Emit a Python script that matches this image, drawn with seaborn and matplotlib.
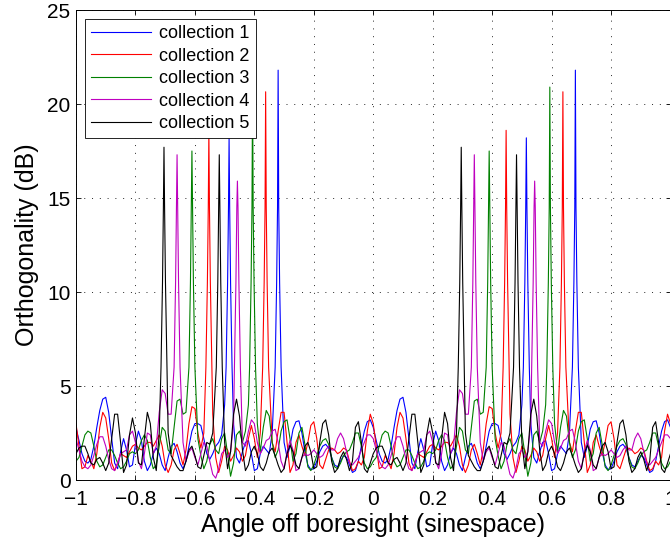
import numpy as np
import pandas as pd
import matplotlib
matplotlib.use("Agg")
import matplotlib.pyplot as plt
import seaborn as sns
from matplotlib.lines import Line2D

series_names = ["collection 1", "collection 2", "collection 3", "collection 4", "collection 5"]
series_colors = ["#0000ff", "#ff0000", "#008000", "#bf00bf", "#000000"]

# angle grid in sinespace, sampled every 0.01 from -1 to 1
u_grid = np.round(np.linspace(-1.0, 1.0, 201), 3)

# background level (dB) at each grid sample
c1_db = [2.8,2.1,1.4,1.0,0.9,1.1,1.8,2.8,3.7,4.3, 4.4,3.6,2.2,0.9,0.6,1.5,2.2,1.6,0.7,0.8,
         1.9,2.6,2.1,1.0,0.5,0.8,1.4,1.7,1.4,0.8, 0.5,1.2,1.8,1.95,1.5,0.9,0.6,1.0,1.8,2.6,
         3.0,3.0,2.9,2.2,1.4,1.1,1.4,1.8,2.0,2.4, 4.0,8.0,8.0,3.0,1.2,0.9,1.5,2.0,2.1,1.4,
         0.5,0.6,1.4,1.8,1.6,1.4,2.5,6.0,20.0,6.0, 2.0,1.2,1.8,2.7,3.1,3.15,2.5,1.5,0.8,0.55,
         0.6,1.0,1.5,1.8,1.9,1.7,1.2,0.8,0.7,1.0, 1.3,1.2,0.8,0.4,0.5,1.0,1.8,2.6,3.1,3.2,
         2.8,2.1,1.4,1.0,0.9,1.1,1.8,2.8,3.7,4.3, 4.4,3.6,2.2,0.9,0.6,1.5,2.2,1.6,0.7,0.8,
         1.9,2.6,2.1,1.0,0.5,0.8,1.4,1.7,1.4,0.8, 0.5,1.2,1.8,1.95,1.5,0.9,0.6,1.0,1.8,2.6,
         3.0,3.0,2.9,2.2,1.4,1.1,1.4,1.8,2.0,2.4, 4.0,8.0,8.0,3.0,1.2,0.9,1.5,2.0,2.1,1.4,
         0.5,0.6,1.4,1.8,1.6,1.4,2.5,6.0,20.0,6.0, 2.0,1.2,1.8,2.7,3.1,3.15,2.5,1.5,0.8,0.55,
         0.6,1.0,1.5,1.8,1.9,1.7,1.2,0.8,0.7,1.0, 1.3,1.2,0.8,0.4,0.5,1.0,1.8,2.6,3.1,3.2,
         2.8]
c2_db = [3.0,1.8,0.6,0.7,1.3,1.0,0.6,1.4,2.8,3.6, 3.3,2.2,0.9,0.5,0.9,1.4,1.3,1.2,1.5,1.8,
         1.9,1.7,1.6,1.8,2.0,2.0,1.8,2.1,2.4,1.8, 0.8,0.4,0.8,1.6,1.9,1.4,0.8,1.6,3.0,3.9,
         3.8,2.5,1.7,2.5,7.0,15.0,3.5,1.2,0.4,1.0, 1.8,1.6,1.0,1.3,1.7,1.5,1.0,1.3,2.2,2.9,
         2.2,1.2,2.5,6.0,15.0,5.0,2.0,1.5,2.6,3.6, 3.6,2.0,0.4,0.8,2.0,2.4,1.8,1.3,2.0,2.9,
         3.1,2.2,0.8,0.6,1.1,1.6,1.7,1.6,1.4,1.5, 1.7,1.6,1.0,0.5,0.6,1.0,0.8,1.2,2.6,3.5,
         3.0,1.8,0.6,0.7,1.3,1.0,0.6,1.4,2.8,3.6, 3.3,2.2,0.9,0.5,0.9,1.4,1.3,1.2,1.5,1.8,
         1.9,1.7,1.6,1.8,2.0,2.0,1.8,2.1,2.4,1.8, 0.8,0.4,0.8,1.6,1.9,1.4,0.8,1.6,3.0,3.9,
         3.8,2.5,1.7,2.5,7.0,15.0,3.5,1.2,0.4,1.0, 1.8,1.6,1.0,1.3,1.7,1.5,1.0,1.3,2.2,2.9,
         2.2,1.2,2.5,6.0,15.0,5.0,2.0,1.5,2.6,3.6, 3.6,2.0,0.4,0.8,2.0,2.4,1.8,1.3,2.0,2.9,
         3.1,2.2,0.8,0.6,1.1,1.6,1.7,1.6,1.4,1.5, 1.7,1.6,1.0,0.5,0.6,1.0,0.8,1.2,2.6,3.5,
         3.0]
c3_db = [1.0,1.2,1.8,2.4,2.6,2.5,1.8,1.0,0.7,0.8, 1.2,1.6,1.6,1.3,0.9,0.6,0.7,1.0,1.4,1.5,
         1.4,1.6,2.1,2.4,2.1,1.2,0.6,0.8,1.8,2.8, 2.6,1.6,1.4,2.8,4.2,4.3,3.5,3.6,6.0,15.0,
         6.0,2.2,1.3,0.6,1.0,1.9,2.2,1.6,1.4,2.2, 2.5,1.4,0.2,0.9,2.4,2.6,2.0,2.6,4.0,12.0,
         8.0,3.0,1.5,2.8,3.7,3.4,2.0,1.2,1.6,2.6, 3.1,3.2,2.2,1.0,1.4,2.5,2.8,1.9,0.7,0.5,
         0.8,1.3,1.8,2.1,2.2,1.9,1.2,0.7,0.6,0.9, 1.3,1.5,1.6,2.0,2.5,2.5,1.8,0.9,0.6,0.7,
         1.0,1.2,1.8,2.4,2.6,2.5,1.8,1.0,0.7,0.8, 1.2,1.6,1.6,1.3,0.9,0.6,0.7,1.0,1.4,1.5,
         1.4,1.6,2.1,2.4,2.1,1.2,0.6,0.8,1.8,2.8, 2.6,1.6,1.4,2.8,4.2,4.3,3.5,3.6,6.0,15.0,
         6.0,2.2,1.3,0.6,1.0,1.9,2.2,1.6,1.4,2.2, 2.5,1.4,0.2,0.9,2.4,2.6,2.0,2.6,4.0,12.0,
         8.0,3.0,1.5,2.8,3.7,3.4,2.0,1.2,1.6,2.6, 3.1,3.2,2.2,1.0,1.4,2.5,2.8,1.9,0.7,0.5,
         0.8,1.3,1.8,2.1,2.2,1.9,1.2,0.7,0.6,0.9, 1.3,1.5,1.6,2.0,2.5,2.5,1.8,0.9,0.6,0.7,
         1.0]
c4_db = [2.2,1.6,1.0,0.7,0.6,0.8,1.3,1.9,2.3,2.3, 1.8,1.1,0.6,0.5,0.9,1.4,1.5,1.6,2.4,2.6,
         2.0,1.0,0.6,1.4,2.5,2.4,1.4,1.8,3.6,4.8, 4.6,3.5,3.5,6.0,15.0,5.0,2.0,1.0,1.5,1.7,
         1.2,0.8,1.4,2.0,1.8,1.0,0.3,0.1,0.6,1.4, 1.6,1.2,1.5,3.0,12.0,7.0,2.0,1.8,2.6,3.2,
         3.0,2.0,1.4,1.7,2.1,2.2,2.6,2.7,2.0,1.0, 0.6,1.5,2.1,1.6,0.5,0.6,1.2,1.4,1.3,1.4,
         1.6,1.4,1.2,1.3,1.6,1.8,1.6,1.6,2.2,2.5, 2.2,1.5,0.9,0.8,1.0,1.2,1.6,2.0,2.4,2.4,
         2.2,1.6,1.0,0.7,0.6,0.8,1.3,1.9,2.3,2.3, 1.8,1.1,0.6,0.5,0.9,1.4,1.5,1.6,2.4,2.6,
         2.0,1.0,0.6,1.4,2.5,2.4,1.4,1.8,3.6,4.8, 4.6,3.5,3.5,6.0,15.0,5.0,2.0,1.0,1.5,1.7,
         1.2,0.8,1.4,2.0,1.8,1.0,0.3,0.1,0.6,1.4, 1.6,1.2,1.5,3.0,12.0,7.0,2.0,1.8,2.6,3.2,
         3.0,2.0,1.4,1.7,2.1,2.2,2.6,2.7,2.0,1.0, 0.6,1.5,2.1,1.6,0.5,0.6,1.2,1.4,1.3,1.4,
         1.6,1.4,1.2,1.3,1.6,1.8,1.6,1.6,2.2,2.5, 2.2,1.5,0.9,0.8,1.0,1.2,1.6,2.0,2.4,2.4,
         2.2]
c5_db = [1.4,1.7,1.8,1.8,1.4,0.9,0.8,1.1,1.2,0.9, 0.5,0.9,2.2,3.5,3.5,2.0,0.4,0.8,2.4,3.3,
         2.5,0.9,0.8,2.2,3.6,3.0,1.2,0.5,2.5,6.0, 15.0,2.5,1.3,1.0,0.7,0.5,0.5,1.0,1.6,1.8,
         1.3,0.7,0.6,1.3,2.0,1.9,2.5,4.5,15.0,6.0, 2.0,0.6,1.5,3.5,4.3,3.4,1.6,0.5,0.8,1.5,
         1.8,1.4,0.7,0.5,0.9,1.5,1.7,1.3,0.8,0.4, 0.6,1.4,1.85,1.5,0.8,0.6,1.2,1.8,2.0,1.5,
         0.6,0.7,2.0,3.0,3.2,2.4,1.0,0.4,0.6,1.2, 1.5,1.1,0.5,1.0,2.8,3.1,2.0,0.6,0.4,0.9,
         1.4,1.7,1.8,1.8,1.4,0.9,0.8,1.1,1.2,0.9, 0.5,0.9,2.2,3.5,3.5,2.0,0.4,0.8,2.4,3.3,
         2.5,0.9,0.8,2.2,3.6,3.0,1.2,0.5,2.5,6.0, 15.0,2.5,1.3,1.0,0.7,0.5,0.5,1.0,1.6,1.8,
         1.3,0.7,0.6,1.3,2.0,1.9,2.5,4.5,15.0,6.0, 2.0,0.6,1.5,3.5,4.3,3.4,1.6,0.5,0.8,1.5,
         1.8,1.4,0.7,0.5,0.9,1.5,1.7,1.3,0.8,0.4, 0.6,1.4,1.85,1.5,0.8,0.6,1.2,1.8,2.0,1.5,
         0.6,0.7,2.0,3.0,3.2,2.4,1.0,0.4,0.6,1.2, 1.5,1.1,0.5,1.0,2.8,3.1,2.0,0.6,0.4,0.9,
         1.4]

# sharp orthogonality peaks: position (sinespace) and height (dB)
c1_peak_u = [-0.485, -0.320, 0.515, 0.680]
c1_peak_db = [18.2, 21.8, 18.2, 21.8]
c2_peak_u = [-0.553, -0.362, 0.447, 0.638]
c2_peak_db = [18.6, 20.65, 18.6, 20.65]
c3_peak_u = [-0.610, -0.406, 0.390, 0.594]
c3_peak_db = [17.5, 20.9, 17.5, 20.9]
c4_peak_u = [-0.660, -0.457, 0.340, 0.543]
c4_peak_db = [17.3, 15.9, 17.3, 15.9]
c5_peak_u = [-0.704, -0.518, 0.296, 0.482]
c5_peak_db = [17.7, 17.3, 17.7, 17.3]

# flank levels of each peak at given distances from the peak
flank_du = [0.002, 0.005, 0.010]
flank_db = [14.5, 10.5, 6.0]

x_ticks = [-1.0, -0.8, -0.6, -0.4, -0.2, 0.0, 0.2, 0.4, 0.6, 0.8, 1.0]
x_tick_labels = ["\u22121", "\u22120.8", "\u22120.6", "\u22120.4", "\u22120.2", "0",
                 "0.2", "0.4", "0.6", "0.8", "1"]
y_ticks = [0, 5, 10, 15, 20, 25]
y_tick_labels = ["0", "5", "10", "15", "20", "25"]

# ---------------------------------------------------------------
frames = []
all_db = [c1_db, c2_db, c3_db, c4_db, c5_db]
all_pu = [c1_peak_u, c2_peak_u, c3_peak_u, c4_peak_u, c5_peak_u]
all_pdb = [c1_peak_db, c2_peak_db, c3_peak_db, c4_peak_db, c5_peak_db]
for name, db, pu, pdb in zip(series_names, all_db, all_pu, all_pdb):
    db = np.asarray(db, float)
    pu_a = np.asarray(pu, float)
    keep = np.all(np.abs(u_grid[:, None] - pu_a[None, :]) >= 0.0125, axis=1)
    us = list(u_grid[keep])
    vs = list(db[keep])
    for p, h in zip(pu, pdb):
        us.append(p)
        vs.append(h)
        for d, f in zip(flank_du, flank_db):
            us += [p - d, p + d]
            vs += [f, f]
    frames.append(pd.DataFrame({"u": us, "db": vs, "series": name}))
df = pd.concat(frames, ignore_index=True).sort_values(["series", "u"])

plt.rcParams["font.family"] = ["Liberation Sans", "DejaVu Sans"]
plt.rcParams["axes.unicode_minus"] = True

fig = plt.figure(figsize=(6.7, 5.42), dpi=100)
ax = fig.add_axes([76 / 670, 62 / 542, 594.5 / 670, 470 / 542])

sns.lineplot(data=df, x="u", y="db", hue="series", hue_order=series_names,
             palette=series_colors, estimator=None, sort=True, lw=0.8,
             legend=False, ax=ax)

ax.set_xlim(-1, 1)
ax.set_ylim(0, 25)
ax.set_xticks(x_ticks)
ax.set_xticklabels(x_tick_labels)
ax.set_yticks(y_ticks)
ax.set_yticklabels(y_tick_labels)
ax.tick_params(direction="in", length=3.5, width=0.6, top=True, right=True,
               labelsize=15, colors="black")
ax.tick_params(axis="x", pad=7)
ax.tick_params(axis="y", pad=4)
ax.set_axisbelow(True)
ax.grid(True, color="0.15", linestyle=(0, (1, 7)), linewidth=0.7)
for s in ax.spines.values():
    s.set_linewidth(0.7)
    s.set_color("black")

ax.set_xlabel("Angle off boresight (sinespace)", fontsize=18, labelpad=3)
ax.set_ylabel("Orthogonality (dB)", fontsize=18, labelpad=6)

handles = [Line2D([0], [0], color=c, lw=0.8) for c in series_colors]
leg = ax.legend(handles, series_names, loc="upper left",
                bbox_to_anchor=(9 / 594.5, (470 - 9) / 470), borderaxespad=0,
                fontsize=13, handlelength=3.3, handletextpad=0.45,
                labelspacing=0.3, borderpad=0.35, fancybox=False,
                framealpha=1, edgecolor="black")
leg.get_frame().set_linewidth(0.6)

fig.savefig("out.png", dpi=100)
